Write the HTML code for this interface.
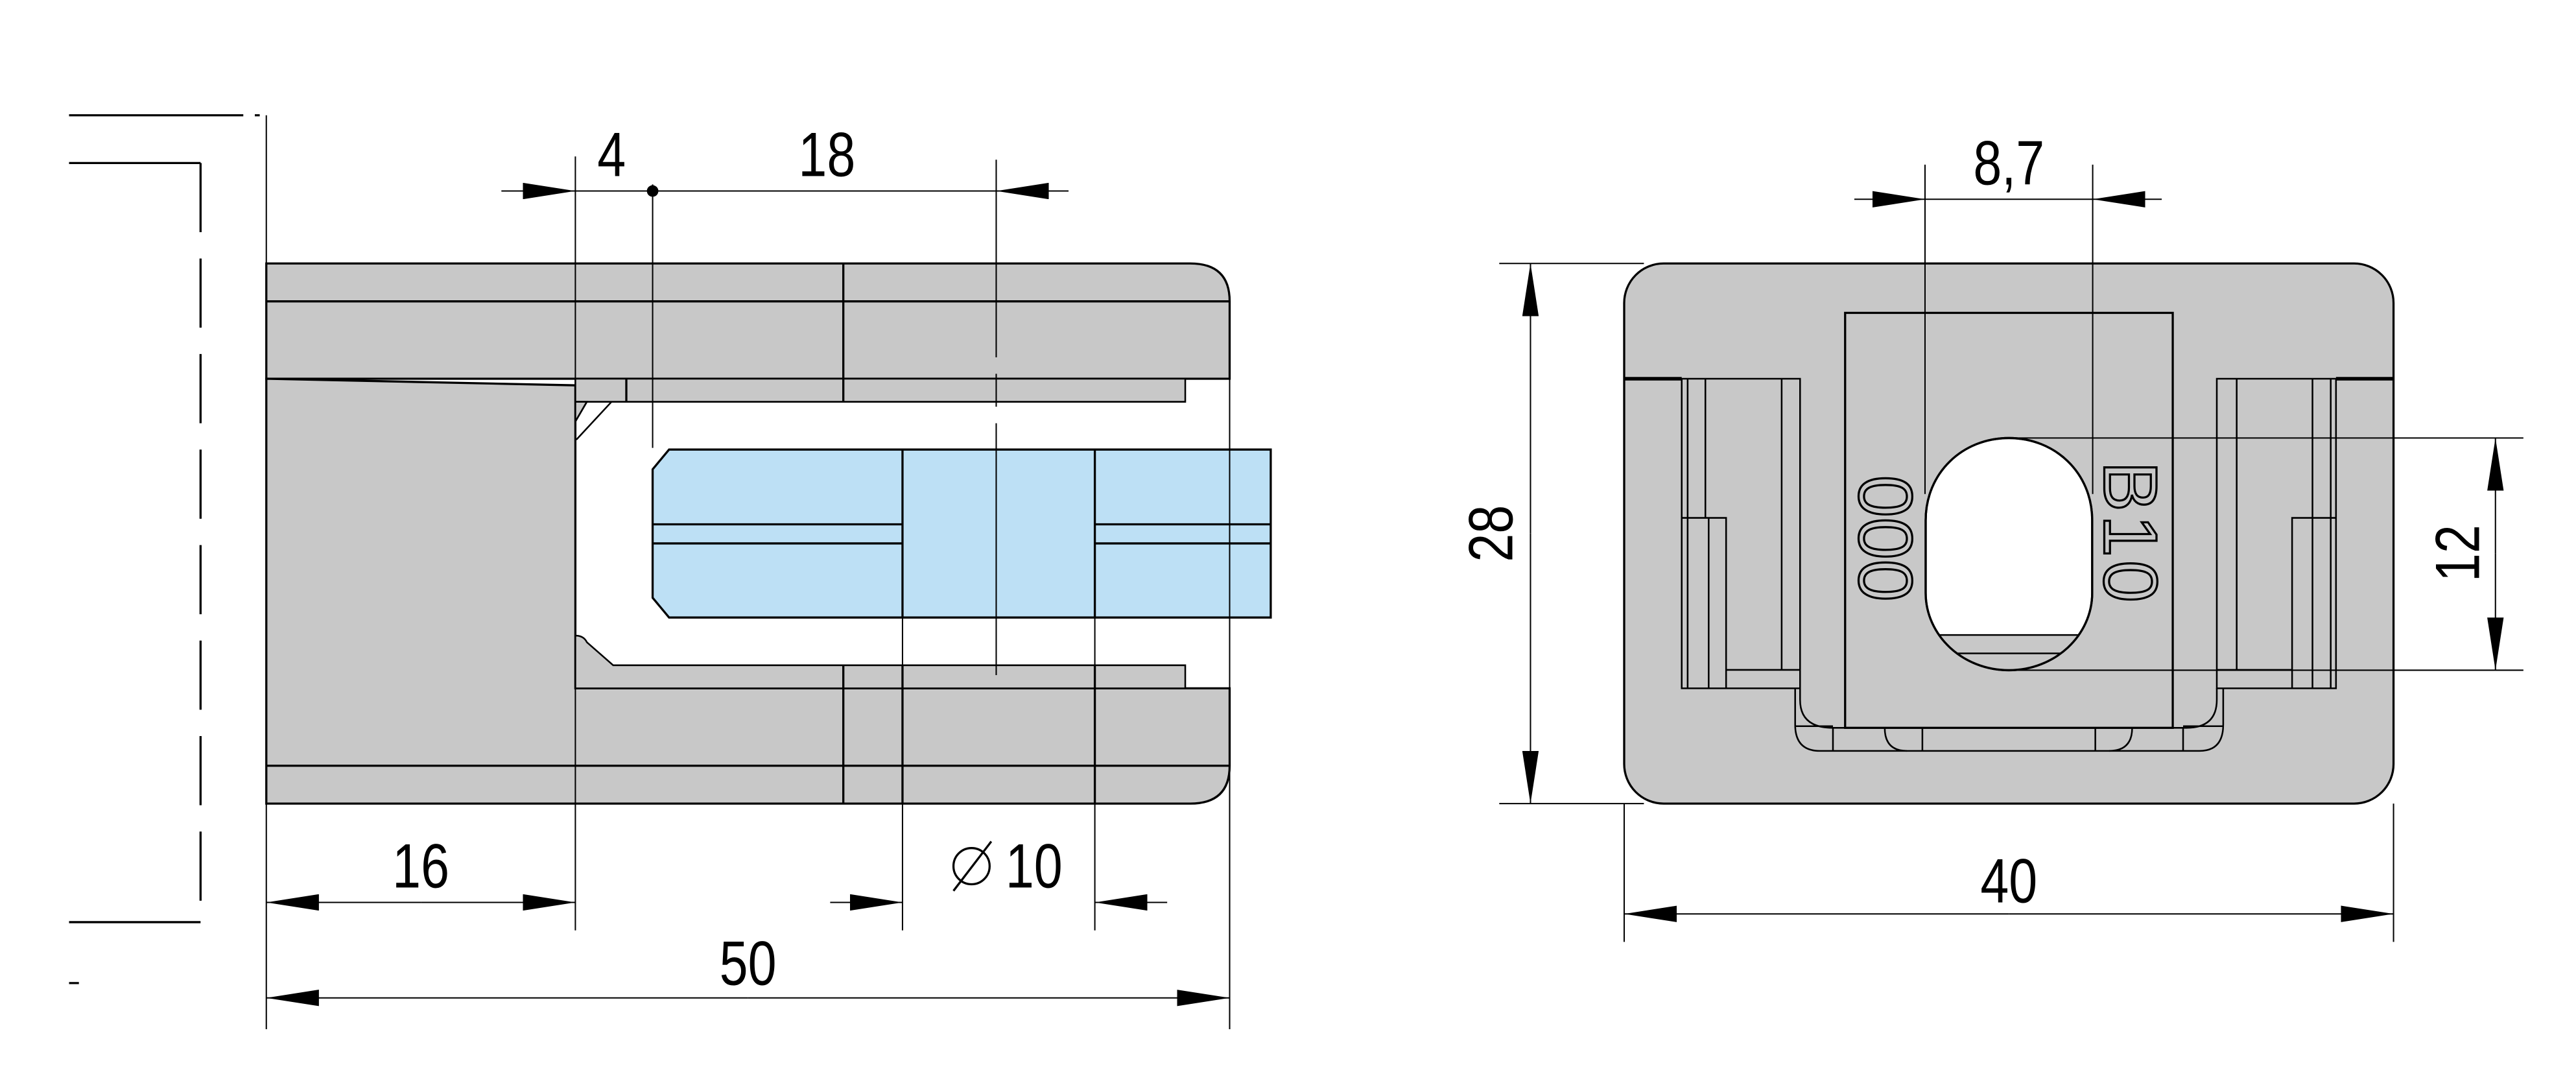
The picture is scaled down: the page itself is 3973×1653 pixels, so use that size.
<!DOCTYPE html>
<html><head><meta charset="utf-8"><style>html,body{margin:0;padding:0;background:#fff}svg{display:block}</style></head><body>
<svg width="3973" height="1653" viewBox="0 0 1567 651" preserveAspectRatio="none" xmlns="http://www.w3.org/2000/svg">
<defs>
<marker id="a" viewBox="0 0 32 10" refX="32" refY="5" markerWidth="32" markerHeight="10" markerUnits="userSpaceOnUse" orient="auto-start-reverse"><path d="M0,0 L32,5 L0,10 Z" fill="#000"/></marker>
<clipPath id="hole"><path d="M1171.4,316 C1171.4,287 1194,266 1222,266 C1250,266 1272.7,287 1272.7,316 L1272.7,360 C1272.7,386 1250,407 1222,407 C1194,407 1171.4,386 1171.4,360 Z"/></clipPath>
</defs>
<g fill="none" stroke="#000" stroke-width="1.3">
<path d="M42,70 H148 M155,70 H158 M42,99 H122 M42,560 H122 M42,597 H48"/>
<path d="M122,99 V560" stroke-dasharray="42,16"/>
<path d="M162,160 H724 Q748,160 748,183 V230 H162 Z" fill="#c8c8c8"/>
<path d="M162,230 L350,234 V418 H748 V465 Q748,488 724,488 H162 Z" fill="#c8c8c8"/>
<path d="M350,234 L350,244 H721 V230 H350 Z" fill="#c8c8c8" stroke-width="1"/>
<path d="M350,244 H357 L350,256 Z" fill="#c8c8c8" stroke-width="1"/>
<path d="M372,244 L350.6,267 M357,244 L350,256" stroke-width="1"/>
<path d="M350,386 Q355,386 357,390 L373,404 H721 V418 H350 Z" fill="#c8c8c8" stroke-width="1"/>
<path d="M162,183 H748 M162,465 H748 M513,160 V244 M513,404 V488 M381,230 V244 M549,404 V488 M666,404 V488"/>
<path d="M407,273 H773 V375 H407 L397,363 V285 Z" fill="#bde0f5"/>
<path d="M549,273 V375 M666,273 V375 M397,318.4 H549 M397,330 H549 M666,318.4 H773 M666,330 H773"/>
</g>
<g fill="none" stroke="#000" stroke-width="0.8">
<path d="M162,70 V625 M350,95 V565 M397,112 V272 M549,375 V565 M666,375 V565 M748,230 V625"/>
<path d="M606,97 V410" stroke-dasharray="120,10,20,10,200"/>
<path d="M305,116 H350" marker-end="url(#a)"/>
<path d="M350,116 H397 H606"/>
<path d="M650,116 H606" marker-end="url(#a)"/>
<path d="M256,548 H162" marker-end="url(#a)"/>
<path d="M256,548 H350" marker-end="url(#a)"/>
<path d="M505,548 H549" marker-end="url(#a)"/>
<path d="M710,548 H666" marker-end="url(#a)"/>
<path d="M455,606 H162" marker-end="url(#a)"/>
<path d="M455,606 H748" marker-end="url(#a)"/>
</g>
<circle cx="397" cy="116" r="3.5" fill="#000"/>
<g fill="none" stroke="#000" stroke-width="1.3">
<rect x="988" y="160" width="468" height="328" rx="24" fill="#c8c8c8"/>
<path d="M988,230 H1023 M1421,230 H1456" stroke-width="2.2"/>
<rect x="1122.4" y="190" width="199.3" height="252" fill="none"/>
<path d="M1023,230 H1095 V418 H1023 Z M1026.6,230 V418 M1037.4,230 V314.5 M1083.8,230 V406.8 M1023,314.5 H1050 V418 M1039.4,314.5 V418 M1050,406.8 H1095" stroke-width="1"/>
<path d="M1348.5,230 H1421 V418 H1348.5 Z M1417.8,230 V418 M1406.7,230 V314.5 M1360.6,230 V406.8 M1421,314.5 H1394.3 V418 M1406.7,314.5 V418 M1394.3,406.8 H1348.5" stroke-width="1"/>
<path d="M1092,418 V440 Q1092,456 1107,456 H1338 Q1352.4,456 1352.4,440 V418" stroke-width="1"/>
<path d="M1095,418 V425 Q1095,442 1115,442 H1330 Q1348.5,442 1348.5,425 V418" stroke-width="1"/>
<path d="M1092,441 H1115 M1328,441 H1352 M1115,442 V456 M1328,442 V456 M1146.5,442 Q1146.5,456 1160,456 M1297,442 Q1297,456 1283,456 M1169.4,442 V456 M1274.6,442 V456" stroke-width="1"/>
<path d="M1171.4,316 C1171.4,287 1194,266 1222,266 C1250,266 1272.7,287 1272.7,316 L1272.7,360 C1272.7,386 1250,407 1222,407 C1194,407 1171.4,386 1171.4,360 Z" fill="#fff"/>
<rect x="1160" y="385.6" width="130" height="30" fill="#c8c8c8" stroke="none" clip-path="url(#hole)"/>
<path d="M1160,385.6 H1290 M1160,396.8 H1290" clip-path="url(#hole)" stroke-width="1"/>
<path d="M1171.4,316 C1171.4,287 1194,266 1222,266 C1250,266 1272.7,287 1272.7,316 L1272.7,360 C1272.7,386 1250,407 1222,407 C1194,407 1171.4,386 1171.4,360 Z"/>
</g>
<g font-family="Liberation Sans, sans-serif" font-size="46" fill="#c8c8c8" stroke="#000" stroke-width="1.3">
<text transform="translate(1131,327) rotate(90)" text-anchor="middle">000</text>
<text transform="translate(1280,324) rotate(90)" text-anchor="middle" letter-spacing="2">B10</text>
</g>
<g fill="none" stroke="#000" stroke-width="0.8">
<path d="M1171,100 V300 M1273,100 V300"/>
<path d="M1128,121 H1171" marker-end="url(#a)"/>
<path d="M1171,121 H1273"/>
<path d="M1315,121 H1273" marker-end="url(#a)"/>
<path d="M912,160 H1000 M912,488 H1000"/>
<path d="M931,324 V160" marker-end="url(#a)"/>
<path d="M931,324 V488" marker-end="url(#a)"/>
<path d="M1222,266 H1535 M1222,407 H1535"/>
<path d="M1518,336 V266" marker-end="url(#a)"/>
<path d="M1518,336 V407" marker-end="url(#a)"/>
<path d="M988,488 V572 M1456,488 V572"/>
<path d="M1222,555 H988" marker-end="url(#a)"/>
<path d="M1222,555 H1456" marker-end="url(#a)"/>
</g>
<g font-family="Liberation Sans, sans-serif" font-size="38" fill="#000" text-anchor="middle">
<text transform="translate(372,107) scale(0.82,1)">4</text>
<text transform="translate(503,107) scale(0.82,1)">18</text>
<text transform="translate(256,539) scale(0.82,1)">16</text>
<text transform="translate(629,539) scale(0.82,1)">10</text>
<text transform="translate(455,598) scale(0.82,1)">50</text>
<text transform="translate(1222,112) scale(0.82,1)">8,7</text>
<text transform="translate(1222,548) scale(0.82,1)">40</text>
<text transform="translate(920,324) rotate(-90) scale(0.82,1)">28</text>
<text transform="translate(1508,336) rotate(-90) scale(0.82,1)">12</text>
</g>
<circle cx="591" cy="526" r="11" fill="none" stroke="#000" stroke-width="1.3"/>
<path d="M580,541 L603,511" stroke="#000" stroke-width="1.3"/>
</svg>
</body></html>
